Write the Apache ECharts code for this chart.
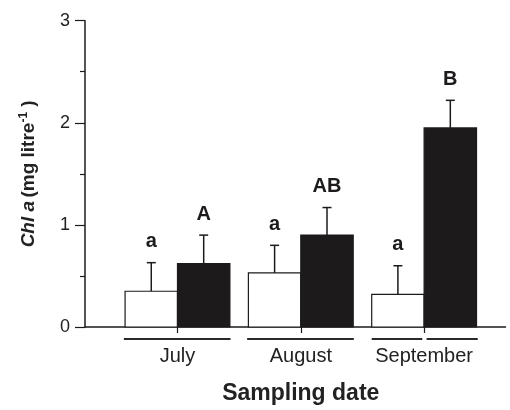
<!DOCTYPE html>
<html>
<head>
<meta charset="utf-8">
<script src="https://cdn.jsdelivr.net/npm/echarts@6/dist/echarts.min.js"></script>
<style>
  html, body { margin: 0; padding: 0; background: #fff; }
  #chart { width: 510px; height: 410px; }
</style>
</head>
<body>
<div id="chart"></div>
<script>
// Chlorophyll a per sampling month: open bars vs filled bars, mean + SD
const months = ['July', 'August', 'September'];
const openMeans = [0.35, 0.53, 0.32];
const openSD = [0.28, 0.27, 0.28];
const filledMeans = [0.62, 0.90, 1.95];
const filledSD = [0.28, 0.27, 0.27];
const openLetters = ['a', 'a', 'a'];
const filledLetters = ['A', 'AB', 'B'];
const yTicks = [0, 1, 2, 3];
// months whose bracket line under the axis is split per bar
const splitBrackets = ['September'];

const FONT = '"Liberation Sans", Arial, Helvetica, sans-serif';
const INK = '#1c1a1a';
const HALF = 0.425;           // bar width in x-axis units
const groupPos = months.map((m, i) => i + 0.75);

function barSeries(means, sds, letters, side, fill) {
  return {
    type: 'custom',
    clip: false,
    data: means.map((v, i) => [groupPos[i], v, sds[i]]),
    renderItem: function (params, api) {
      const x = api.value(0), v = api.value(1), sd = api.value(2);
      const xa = side < 0 ? x - HALF : x;
      const xb = side < 0 ? x : x + HALF;
      const p0 = api.coord([xa, 0]);
      const p1 = api.coord([xb, v]);
      const pe = api.coord([x, v + sd]);
      const mid = (p0[0] + p1[0]) / 2;
      return {
        type: 'group',
        children: [
          {
            type: 'line',
            shape: { x1: mid, y1: p1[1], x2: mid, y2: pe[1] },
            style: { stroke: INK, lineWidth: 1.5 }
          },
          {
            type: 'line',
            shape: { x1: mid - 4.5, y1: pe[1], x2: mid + 4.5, y2: pe[1] },
            style: { stroke: INK, lineWidth: 1.5 }
          },
          {
            type: 'rect',
            shape: { x: p0[0], y: p1[1], width: p1[0] - p0[0], height: p0[1] - p1[1] },
            style: { fill: fill, stroke: INK, lineWidth: 1.2 }
          },
          {
            type: 'text',
            x: mid, y: pe[1] - 11,
            style: {
              text: letters[params.dataIndex],
              fill: INK, font: 'bold 20px ' + FONT,
              align: 'center', verticalAlign: 'bottom'
            }
          }
        ]
      };
    }
  };
}

// bracket lines under the baseline grouping each month's bars
const bracketSeries = {
  type: 'custom',
  clip: false,
  data: months.map((m, i) => [groupPos[i]]),
  renderItem: function (params, api) {
    const x = api.value(0);
    const split = splitBrackets.indexOf(months[params.dataIndex]) >= 0;
    const segs = split
      ? [[x - HALF, x - 0.015], [x + 0.02, x + HALF + 0.01]]
      : [[x - HALF - 0.01, x + HALF + 0.005]];
    return {
      type: 'group',
      children: segs.map(function (s) {
        const a = api.coord([s[0], 0]);
        const b = api.coord([s[1], 0]);
        return {
          type: 'line',
          shape: { x1: a[0], y1: a[1] + 12, x2: b[0], y2: b[1] + 12 },
          style: { stroke: '#2a2828', lineWidth: 2 }
        };
      })
    };
  }
};

const chart = echarts.init(document.getElementById('chart'), null, { renderer: 'canvas' });
chart.setOption({
  backgroundColor: '#fff',
  animation: false,
  grid: { left: 85, right: 4.5, top: 20.7, bottom: 82.3 },
  xAxis: {
    type: 'value',
    min: 0,
    max: 3.41,
    splitLine: { show: false },
    axisLine: { show: true, onZero: false, lineStyle: { color: INK, width: 1.5 } },
    axisTick: {
      show: true, customValues: groupPos, length: 6,
      lineStyle: { color: INK, width: 1.2 }
    },
    axisLabel: {
      customValues: groupPos,
      formatter: function (v) { return months[Math.round(v - 0.75)]; },
      margin: 19,
      color: '#222',
      fontFamily: FONT,
      fontSize: 20
    },
    name: 'Sampling date',
    nameLocation: 'middle',
    nameGap: 55,
    nameTextStyle: {
      fontFamily: FONT, fontSize: 23, fontWeight: 'bold', color: '#222',
      padding: [0, 0, 0, 11]
    }
  },
  yAxis: {
    type: 'value',
    min: yTicks[0],
    max: yTicks[yTicks.length - 1],
    interval: 1,
    splitLine: { show: false },
    axisLine: { show: true, lineStyle: { color: INK, width: 1.5 } },
    axisTick: { show: true, length: 10, lineStyle: { color: INK, width: 1.2 } },
    minorTick: { show: true, splitNumber: 2, length: 5, lineStyle: { color: INK, width: 1.2 } },
    axisLabel: {
      margin: 15, color: '#222', fontFamily: FONT, fontSize: 18
    },
    name: '{i|Chl a} {n|(mg litre}{s|-1}{n| )}',
    nameLocation: 'middle',
    nameRotate: 90,
    nameGap: 45,
    nameTextStyle: {
      rich: {
        i: { fontFamily: FONT, fontSize: 19, fontWeight: 'bold', fontStyle: 'italic', color: '#222' },
        n: { fontFamily: FONT, fontSize: 19, fontWeight: 'bold', color: '#222' },
        s: { fontFamily: FONT, fontSize: 12, fontWeight: 'bold', color: '#222', verticalAlign: 'top', padding: [0, 0, 10, 0] }
      }
    }
  },
  series: [
    barSeries(openMeans, openSD, openLetters, -1, '#ffffff'),
    barSeries(filledMeans, filledSD, filledLetters, 1, INK),
    bracketSeries
  ]
});
</script>
</body>
</html>
